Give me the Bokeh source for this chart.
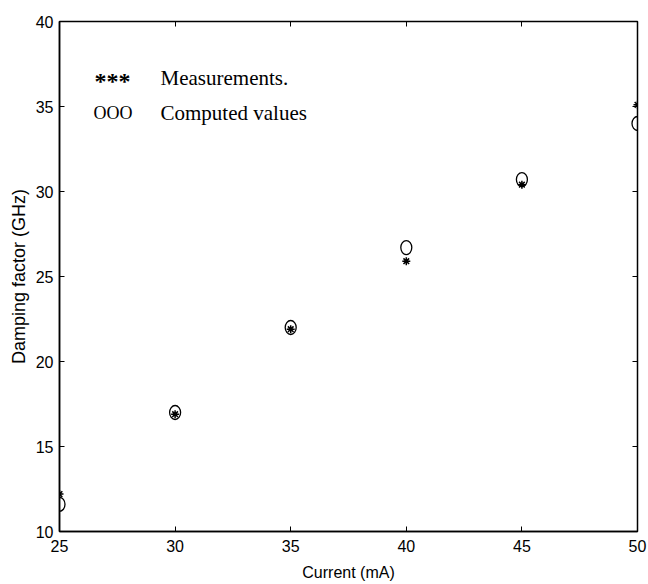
from bokeh.plotting import figure
from bokeh.models import FixedTicker, Range1d, LinearAxis, Label
from bokeh.embed import file_html
from bokeh.resources import INLINE

current = [25, 30, 35, 40, 45, 50]
measured = [12.2, 16.9, 21.9, 25.9, 30.4, 35.1]
computed = [11.6, 17.0, 22.0, 26.7, 30.7, 34.0]
x_ticks = [25, 30, 35, 40, 45, 50]
y_ticks = [10, 15, 20, 25, 30, 35, 40]

p = figure(width=648, height=584, output_backend="svg", toolbar_location=None,
           x_range=Range1d(25, 50), y_range=Range1d(10, 40),
           min_border_left=59, min_border_right=11, min_border_top=21, min_border_bottom=53,
           x_axis_label="Current (mA)", y_axis_label="Damping factor (GHz)")
p.grid.visible = False
p.outline_line_color = "black"
p.outline_line_width = 1.5
p.background_fill_color = "white"
p.border_fill_color = "white"

for ax in (p.xaxis[0], p.yaxis[0]):
    ax.major_tick_in = 5
    ax.major_tick_out = 0
    ax.minor_tick_line_color = None
    ax.axis_line_width = 1.5
    ax.major_label_text_font = "Liberation Sans"
    ax.major_label_text_font_size = "16px"
    ax.major_label_text_color = "black"
    ax.axis_label_text_font = "Liberation Sans"
    ax.axis_label_text_font_size = "16px"
    ax.axis_label_text_font_style = "normal"
    ax.axis_label_text_color = "black"
p.xaxis[0].ticker = FixedTicker(ticks=x_ticks)
p.yaxis[0].ticker = FixedTicker(ticks=y_ticks)
p.yaxis[0].axis_label_text_font_size = "18px"
p.xaxis[0].major_label_standoff = 8
p.xaxis[0].axis_label_standoff = 9
p.yaxis[0].major_label_standoff = 6
p.yaxis[0].axis_label_standoff = 4

top = LinearAxis(ticker=FixedTicker(ticks=x_ticks),
                 major_label_overrides={t: "" for t in x_ticks},
                 major_tick_in=5, major_tick_out=0, minor_tick_line_color=None, axis_line_color=None)
right = LinearAxis(ticker=FixedTicker(ticks=y_ticks),
                   major_label_overrides={t: "" for t in y_ticks},
                   major_tick_in=5, major_tick_out=0, minor_tick_line_color=None, axis_line_color=None)
p.add_layout(top, "above")
p.add_layout(right, "right")

p.scatter(current, measured, marker="asterisk", size=8, line_color="black", line_width=1.5)
p.ellipse(current, computed, width=11, height=14, width_units="screen", height_units="screen",
          fill_color=None, line_color="black", line_width=1.3)

# legend-like texts (frame-relative screen units)
for txt, xs, base, sz, st in [("***", 35, 80, "24px", "bold"), ("OOO", 34, 112, "18px", "normal")]:
    p.add_layout(Label(x=xs, y=531 - base, x_units="screen", y_units="screen", text=txt,
                       text_font="Liberation Serif", text_font_size=sz, text_font_style=st,
                       text_color="black", text_baseline="alphabetic"))
for txt, base in [("Measurements.", 77), ("Computed values", 112)]:
    p.add_layout(Label(x=101, y=531 - base, x_units="screen", y_units="screen", text=txt,
                       text_font="Liberation Serif", text_font_size="21px",
                       text_color="black", text_baseline="alphabetic"))

open("out.html", "w").write(file_html(p, INLINE))
